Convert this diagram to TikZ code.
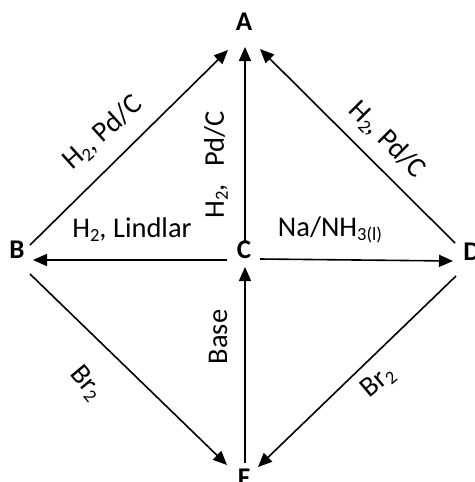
\documentclass[tikz,border=0pt]{standalone}
\usepackage{fontspec}
\setmainfont{Carlito}
\usetikzlibrary{arrows.meta,calc}
\newcommand\chemsub[1]{\raisebox{-0.3ex}{\scalebox{0.65}{#1}}}
\begin{document}
\begin{tikzpicture}[x=1pt,y=-1pt,
  arr/.style={line width=1.6pt,-{Triangle[length=14pt,width=12pt]}},
  lbl/.style={font=\bfseries\fontsize{27}{27}\selectfont,inner sep=0pt},
  rxn/.style={font=\fontsize{28.5}{28.5}\selectfont,inner sep=0pt}]
\useasboundingbox (0,0) rectangle (474,482);
\clip (0,0) rectangle (474,482);
\node[lbl] (A) at (244,22) {A};
\node[lbl] (B) at (17,250) {B};
\node[lbl] (C) at (244,250) {C};
\node[lbl] (D) at (472,252) {D};
\node[lbl] (F) at (244,478) {F};
\draw[arr] ($(C)+(1,-7)$) -- ($(A)+(1,25)$);
\draw[arr] ($(B)+(13,-5)$) -- ($(A)+(-16,28)$);
\draw[arr] ($(D)+(-17,-9)$) -- ($(A)+(16,27)$);
\draw[arr] ($(C)+(-17,10)$) -- ($(B)+(16,10)$);
\draw[arr] ($(C)+(16,9)$) -- ($(D)+(-19,9)$);
\draw[arr] ($(F)+(1,-15)$) -- ($(C)+(1,17)$);
\draw[arr] ($(B)+(13,24)$) -- ($(F)+(-17,-13)$);
\draw[arr] ($(D)+(-16,24)$) -- ($(F)+(14,-11)$);
\node[rxn,rotate=42] (l1) at (103,133) {H\chemsub{2}, Pd/C};
\node[rxn,rotate=90] (l2) at (216,165) {H\chemsub{2},\ \ \,Pd/C};
\node[rxn,rotate=-45] (l3) at (387,140) {H\chemsub{2}, Pd/C};
\node[rxn] (l4) at (132,230) {H\chemsub{2}, Lindlar};
\node[rxn] (l5) at (330,230) {Na/NH\chemsub{3(l)}};
\node[rxn,rotate=90] (l6) at (218,337) {Base};
\node[rxn,rotate=-50] (l7) at (86,383) {Br\chemsub{2}};
\node[rxn,rotate=40] (l8) at (378,382) {Br\chemsub{2}};
\end{tikzpicture}
\end{document}
